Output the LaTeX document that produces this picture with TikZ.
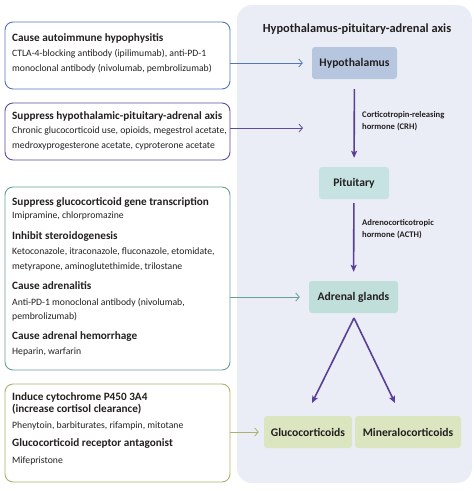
\documentclass[tikz,border=0pt]{standalone}
\usepackage{fontspec}
\setmainfont{Carlito}
\usepackage{tikz}
\usetikzlibrary{arrows.meta}

\definecolor{panelbg}{HTML}{EBEDF6}
\definecolor{hypfill}{HTML}{B6C6DF}
\definecolor{pitfill}{HTML}{C7E2E2}
\definecolor{adrfill}{HTML}{C1DFDA}
\definecolor{corfill}{HTML}{DBE6C1}
\definecolor{axisline}{HTML}{5B3F97}
\definecolor{cblue}{HTML}{5276B8}
\definecolor{cpurple}{HTML}{5E4B99}
\definecolor{cteal}{HTML}{65A093}
\definecolor{colive}{HTML}{A9B36C}
\definecolor{ink}{HTML}{231F20}

\newcommand{\headfont}{\fontsize{11.2}{14.5}\selectfont\bfseries}
\newcommand{\bodyfont}{\fontsize{9.7}{14.5}\selectfont}

\tikzset{
  organ/.style={rounded corners=3pt, minimum height=32pt, inner sep=0pt,
    text=ink, font=\fontsize{11.6}{14}\selectfont\bfseries},
  causebox/.style={draw, line width=0.9pt, rounded corners=8pt, minimum width=225pt},
  boxtext/.style={anchor=north west, align=left, inner sep=0pt, text=ink, font=\bodyfont},
  axisarrow/.style={draw=axisline, line width=1.6pt,
    -{Stealth[length=7pt,width=6pt,inset=1.5pt]}},
  sidearrow/.style={line width=0.8pt, -{Straight Barb[length=3.5pt,width=8pt]}},
  hormone/.style={anchor=west, align=left, inner sep=0pt, text=ink,
    font=\fontsize{8.6}{11.5}\selectfont\bfseries}
}

\begin{document}
\begin{tikzpicture}[x=1pt, y=-1pt]
  \useasboundingbox (0,0) rectangle (474,491);

  % Background panel of the axis
  \fill[panelbg, rounded corners=15pt] (237,5) rectangle (472,483);
  \node[text=ink, font=\fontsize{12.4}{14}\selectfont\bfseries, inner sep=0pt] (title)
    at (357,29) {Hypothalamus-pituitary-adrenal axis};

  % Define organs
  \node[organ, fill=hypfill, minimum width=85pt] (hyp) at (354.5,63) {Hypothalamus};
  \node[organ, fill=pitfill, minimum width=70pt] (pit) at (354,183) {Pituitary};
  \node[organ, fill=adrfill, minimum width=89pt] (adr) at (353.5,297) {Adrenal glands};
  \node[organ, fill=corfill, minimum width=88pt] (gluco) at (308,432) {Glucocorticoids};
  \node[organ, fill=corfill, minimum width=106pt] (mineral) at (408,432) {Mineralocorticoids};

  \coordinate (split) at (354,318);
  \coordinate (gtip) at (312,403);
  \coordinate (mtip) at (395,403);
  \coordinate (crhin) at (303,128);

  % Draw axis arrows
  \draw[axisarrow, shorten <=10pt, shorten >=9pt] (hyp) -- (pit);
  \draw[axisarrow, shorten <=4pt, shorten >=9pt] (pit) -- (adr);
  \draw[axisarrow] (split) -- (gtip);
  \draw[axisarrow] (split) -- (mtip);
  \node[hormone] (crh) at (362,121) {Corticotropin-releasing\\hormone (CRH)};
  \node[hormone] (acth) at (362,229) {Adrenocorticotropic\\hormone (ACTH)};

  % Define cause boxes
  \node[causebox, draw=cblue, minimum height=67pt] (box1) at (117.5,55.5) {};
  \node[causebox, draw=cpurple, minimum height=57pt] (box2) at (117.5,131.5) {};
  \node[causebox, draw=cteal, minimum height=183pt] (box3) at (117.5,278.5) {};
  \node[causebox, draw=colive, minimum height=98pt] (box4) at (117.5,433) {};

  \node[boxtext] (text1) at (12,33) {{\headfont Cause autoimmune hypophysitis}\\[1pt]
    CTLA-4-blocking antibody (ipilimumab), anti-PD-1\\
    monoclonal antibody (nivolumab, pembrolizumab)};
  \node[boxtext] (text2) at (12,111) {{\headfont Suppress hypothalamic-pituitary-adrenal axis}\\
    Chronic glucocorticoid use, opioids, megestrol acetate,\\
    medroxyprogesterone acetate, cyproterone acetate};
  \node[boxtext] (text3) at (12,197) {{\headfont Suppress glucocorticoid gene transcription}\\[-1pt]
    Imipramine, chlorpromazine\\[6pt]
    {\headfont Inhibit steroidogenesis}\\[1pt]
    Ketoconazole, itraconazole, fluconazole, etomidate,\\
    metyrapone, aminoglutethimide, trilostane\\[6pt]
    {\headfont Cause adrenalitis}\\[1pt]
    Anti-PD-1 monoclonal antibody (nivolumab,\\
    pembrolizumab)\\[5pt]
    {\headfont Cause adrenal hemorrhage}\\[1pt]
    Heparin, warfarin};
  \node[boxtext] (text4) at (12,392) {{\headfont Induce cytochrome P450 3A4}\\[-2pt]
    {\headfont (increase cortisol clearance)}\\[1pt]
    Phenytoin, barbiturates, rifampin, mitotane\\[4pt]
    {\headfont Glucocorticoid receptor antagonist}\\[2pt]
    Mifepristone};

  % Draw side arrows
  \draw[sidearrow, cblue, shorten >=9pt] (box1.east |- hyp.west) -- (hyp.west);
  \draw[sidearrow, cpurple] (box2.east |- crhin) -- (crhin);
  \draw[sidearrow, cteal, shorten >=9pt] (box3.east |- adr.west) -- (adr.west);
  \draw[sidearrow, colive, shorten >=5pt] (box4.east |- gluco.west) -- (gluco.west);
\end{tikzpicture}
\end{document}
